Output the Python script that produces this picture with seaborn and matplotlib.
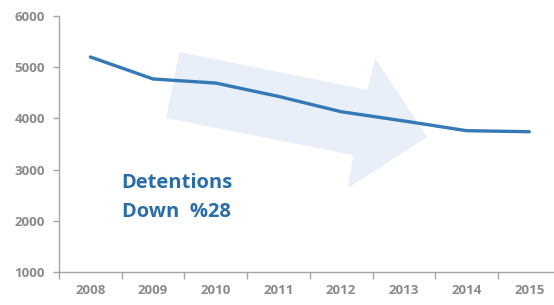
import matplotlib
matplotlib.use("Agg")
import matplotlib.pyplot as plt
from matplotlib.patches import Polygon
from matplotlib.ticker import FixedLocator, NullFormatter
import seaborn as sns
import pandas as pd

years = ["2008", "2009", "2010", "2011", "2012", "2013", "2014", "2015"]
detentions = [5200, 4770, 4690, 4430, 4130, 3950, 3760, 3740]
y_ticks = [1000, 2000, 3000, 4000, 5000, 6000]
label_text = "Detentions\nDown  %28"

sns.set_theme(style="white")
plt.rcParams['font.family'] = ['Open Sans', 'DejaVu Sans']

df = pd.DataFrame({"x": range(len(years)), "v": detentions})

fig = plt.figure(figsize=(5.54, 3.05), dpi=100)
ax = fig.add_axes([59/554, 33/305, 1 - 59/554, (272-16)/305])

# decorative arrow (behind the line)
arrow = Polygon([(1.42, 5297), (4.42, 4555), (4.54, 5180), (5.37, 3637),
                 (4.11, 2641), (4.19, 3285), (1.21, 4008)],
                closed=True, facecolor="#E8EFF8", edgecolor="none", zorder=1)
ax.add_patch(arrow)

sns.lineplot(data=df, x="x", y="v", ax=ax, color="#3579B6", linewidth=2.4, zorder=3)

ax.set_xlim(-0.5, -0.5 + 495/62.7)
ax.set_ylim(1000, 6000)
ax.set_xlabel("")
ax.set_ylabel("")

tick_col = "#8A8A8A"
ax.set_xticks(range(len(years)))
ax.set_xticklabels(years)
ax.xaxis.set_minor_locator(FixedLocator([i - 0.5 for i in range(len(years) + 1)]))
ax.xaxis.set_minor_formatter(NullFormatter())
ax.tick_params(axis="x", which="major", length=0, pad=9, labelsize=9.5, labelcolor=tick_col)
ax.tick_params(axis="x", which="minor", length=5, width=1, color="#A6A6A6", direction="out", bottom=True)
ax.set_yticks(y_ticks)
ax.tick_params(axis="y", length=4, width=1, color="#A6A6A6", direction="out", left=True,
               labelsize=9.5, labelcolor=tick_col, pad=6)
for lab in ax.get_xticklabels() + ax.get_yticklabels():
    lab.set_fontweight("bold")

for s in ["top", "right"]:
    ax.spines[s].set_visible(False)
for s in ["left", "bottom"]:
    ax.spines[s].set_color("#A6A6A6")
    ax.spines[s].set_linewidth(1)

ax.text(0.5, 2450, label_text, color="#2B6DA6", fontsize=14.5, fontweight="bold",
        ha="left", va="center", linespacing=1.6, zorder=4)

fig.savefig("out.png", dpi=100)
